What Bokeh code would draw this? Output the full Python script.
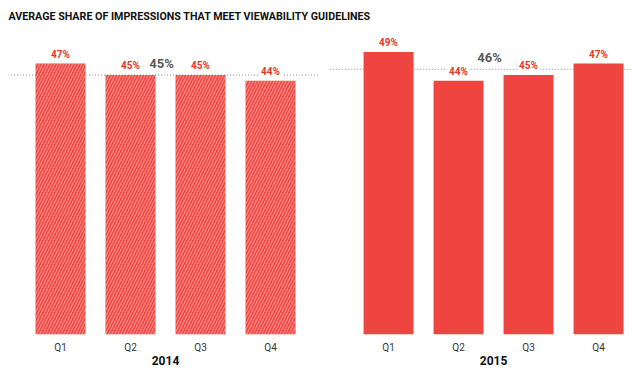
from bokeh.plotting import figure
from bokeh.models import Range1d, FixedTicker, LinearAxis, ColumnDataSource
from bokeh.core.properties import value
from bokeh.embed import file_html
from bokeh.resources import INLINE

# ---- data ----
title_text = "AVERAGE SHARE OF IMPRESSIONS THAT MEET VIEWABILITY GUIDELINES"
years = ["2014", "2015"]
quarters = ["Q1", "Q2", "Q3", "Q4"]
share_2014 = [47, 45, 45, 44]
share_2015 = [49, 44, 45, 47]
avg_2014 = 45
avg_2015 = 46

# ---- layout helpers (slot units) ----
GAP = 0.686
BAR_W = 0.714
n = len(quarters)
x_2014 = [float(i) for i in range(n)]
x_2015 = [i + n + GAP for i in range(n)]

RED = "#EF4540"
LABEL_RED = "#E5362E"
FONT = value("Roboto")

p = figure(width=640, height=370, output_backend="svg", toolbar_location=None,
           x_range=Range1d(-0.743, 8.171), y_range=Range1d(0, 52.9),
           x_axis_type=None, y_axis_type=None,
           min_border_left=8, min_border_right=8, min_border_top=0, min_border_bottom=36)
p.outline_line_color = None
p.grid.visible = False
p.background_fill_color = "white"

p.title.text = title_text
p.title.text_font = "Roboto"
p.title.text_font_size = "10.7px"
p.title.text_font_style = "bold"
p.title.text_color = "#111111"
p.title.align = "left"
p.title.offset = 0
p.title.standoff = 14

# average dotted lines
avg_src = ColumnDataSource(dict(
    x0=[x_2014[0] - 0.75, x_2015[0] - 0.84],
    x1=[x_2014[-1] + 0.69, x_2015[-1] + 0.8],
    y=[avg_2014, avg_2015],
    cx=[sum(x_2014) / n, sum(x_2015) / n],
    lbl=[f"{avg_2014}%", f"{avg_2015}%"],
))
p.segment(x0="x0", y0="y", x1="x1", y1="y", source=avg_src,
          line_color="#8a8a8a", line_width=1, line_dash="1 2")

# bars
src14 = ColumnDataSource(dict(x=x_2014, top=share_2014, lbl=[f"{v}%" for v in share_2014]))
src15 = ColumnDataSource(dict(x=x_2015, top=share_2015, lbl=[f"{v}%" for v in share_2015]))
p.vbar(x="x", top="top", bottom=0, width=BAR_W, source=src14,
       fill_color=RED, line_color=None,
       hatch_pattern="/", hatch_color="white", hatch_alpha=0.35,
       hatch_scale=6, hatch_weight=1.3)
p.vbar(x="x", top="top", bottom=0, width=BAR_W, source=src15,
       fill_color=RED, line_color=None)

# value labels
for s in (src14, src15):
    p.text(x="x", y="top", text="lbl", source=s, text_font=FONT,
           text_font_size="10px", text_font_style="bold", text_color=LABEL_RED,
           text_align="center", text_baseline="bottom", y_offset=-2,
           background_fill_color="white", padding=2)

# average labels
p.text(x="cx", y="y", text="lbl", source=avg_src, text_font=FONT,
       text_font_size="13px", text_font_style="bold", text_color="#585858",
       text_align="center", text_baseline="bottom", x_offset=-4, y_offset=-4)

# axes
all_x = x_2014 + x_2015
q_axis = LinearAxis(ticker=FixedTicker(ticks=all_x),
                    major_label_overrides={x: q for x, q in zip(all_x, quarters * 2)})
year_centers = [sum(x_2014) / n, sum(x_2015) / n]
y_axis = LinearAxis(ticker=FixedTicker(ticks=year_centers),
                    major_label_overrides={x: y for x, y in zip(year_centers, years)})
for ax in (q_axis, y_axis):
    ax.axis_line_color = None
    ax.major_tick_line_color = None
    ax.minor_tick_line_color = None
    ax.major_tick_out = 0
    ax.major_tick_in = 0
    ax.major_label_text_font = "Roboto"
q_axis.major_label_text_font_size = "10px"
q_axis.major_label_text_color = "#333333"
q_axis.major_label_standoff = 7
y_axis.major_label_text_font_size = "12px"
y_axis.major_label_text_font_style = "bold"
y_axis.major_label_text_color = "#111111"
y_axis.major_label_standoff = 0
p.add_layout(q_axis, "below")
p.add_layout(y_axis, "below")

open("out.html", "w").write(file_html(p, INLINE))
